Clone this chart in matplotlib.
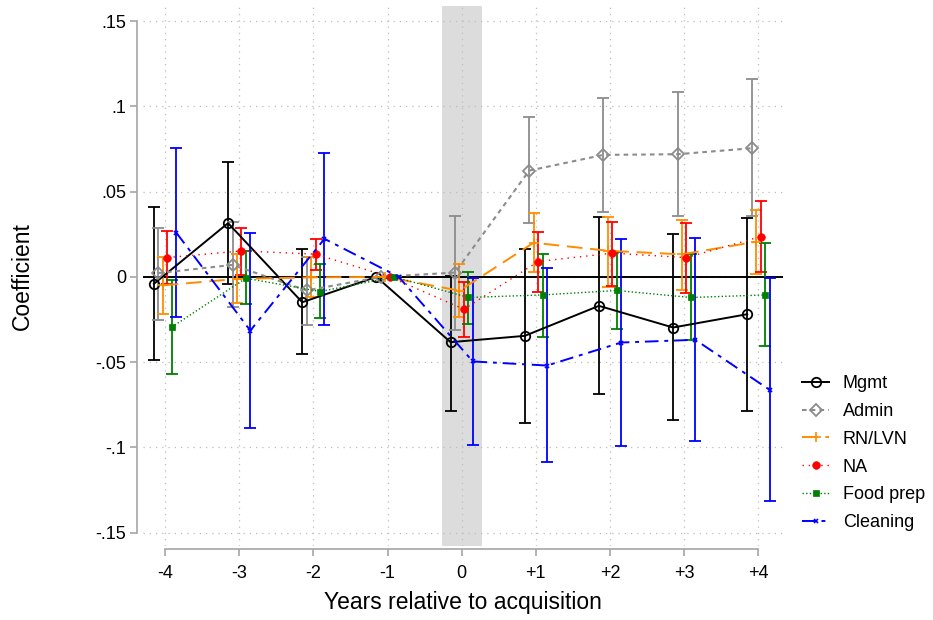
import numpy as np
import matplotlib
matplotlib.use("Agg")
import matplotlib.pyplot as plt
from matplotlib.lines import Line2D

plt.rcParams['font.family'] = ['Liberation Sans', 'DejaVu Sans']

# Event-study estimates by occupation group (year -1 is the reference year)
years = [-4, -3, -2, -1, 0, 1, 2, 3, 4]
year_labels = ['-4', '-3', '-2', '-1', '0', '+1', '+2', '+3', '+4']
y_ticks = [0.15, 0.10, 0.05, 0.0, -0.05, -0.10, -0.15]
y_tick_labels = ['.15', '.1', '.05', '0', '-.05', '-.1', '-.15']

groups = ['Mgmt', 'Admin', 'RN/LVN', 'NA', 'Food prep', 'Cleaning']

mgmt_coef = [-0.0041, 0.0315, -0.0149, 0.0, -0.0383, -0.0346, -0.0170, -0.0297, -0.0219]
mgmt_lo   = [-0.0490, -0.0041, -0.0453, 0.0, -0.0785, -0.0858, -0.0686, -0.0842, -0.0784]
mgmt_hi   = [0.0408, 0.0676, 0.0164, 0.0, 0.0005, 0.0164, 0.0350, 0.0250, 0.0344]

admin_coef = [0.0022, 0.0070, -0.0080, 0.0, 0.0025, 0.0623, 0.0715, 0.0719, 0.0754]
admin_lo   = [-0.0252, -0.0174, -0.0285, 0.0, -0.0310, 0.0315, 0.0383, 0.0354, 0.0354]
admin_hi   = [0.0287, 0.0324, 0.0119, 0.0, 0.0359, 0.0936, 0.1047, 0.1086, 0.1160]

rn_coef = [-0.0050, -0.0012, -0.0003, 0.0, -0.0081, 0.0200, 0.0153, 0.0132, 0.0206]
rn_lo   = [-0.0217, -0.0154, -0.0120, 0.0, -0.0238, 0.0031, -0.0057, -0.0076, 0.0016]
rn_hi   = [0.0117, 0.0133, 0.0115, 0.0, 0.0076, 0.0373, 0.0352, 0.0334, 0.0393]

na_coef = [0.0113, 0.0152, 0.0133, 0.0, -0.0190, 0.0090, 0.0139, 0.0113, 0.0236]
na_lo   = [-0.0041, 0.0012, 0.0041, 0.0, -0.0350, -0.0090, -0.0051, -0.0092, 0.0027]
na_hi   = [0.0266, 0.0289, 0.0223, 0.0, -0.0031, 0.0262, 0.0320, 0.0318, 0.0445]

food_coef = [-0.0295, -0.0008, -0.0086, 0.0, -0.0121, -0.0106, -0.0080, -0.0121, -0.0106]
food_lo   = [-0.0570, -0.0160, -0.0242, 0.0, -0.0275, -0.0350, -0.0305, -0.0369, -0.0403]
food_hi   = [-0.0018, 0.0152, 0.0074, 0.0, 0.0031, 0.0135, 0.0145, 0.0133, 0.0198]

clean_coef = [0.0260, -0.0315, 0.0223, 0.0, -0.0496, -0.0520, -0.0385, -0.0369, -0.0662]
clean_lo   = [-0.0233, -0.0889, -0.0283, 0.0, -0.0985, -0.1086, -0.0990, -0.0965, -0.1313]
clean_hi   = [0.0754, 0.0260, 0.0729, 0.0, -0.0008, 0.0051, 0.0223, 0.0227, -0.0008]

series = [
    (mgmt_coef, mgmt_lo, mgmt_hi),
    (admin_coef, admin_lo, admin_hi),
    (rn_coef, rn_lo, rn_hi),
    (na_coef, na_lo, na_hi),
    (food_coef, food_lo, food_hi),
    (clean_coef, clean_lo, clean_hi),
]

# Styling: horizontal dodge, colour, line pattern and marker per group
styles = [
    dict(dx=-0.15, color='black', ls='-', marker='o', ms=6.8, mfc='none', mew=1.3, lw=1.4),
    dict(dx=-0.09, color='#8c8c8c', ls=(0, (2.2, 2.0)), marker='D', ms=6.0, mfc='none', mew=1.3, lw=1.5),
    dict(dx=-0.03, color='#ff8c00', ls=(0, (8, 4)), marker='+', ms=6.5, mfc='#ff8c00', mew=1.2, lw=1.4),
    dict(dx=0.03, color='#ff0000', ls=(0, (1, 3.5)), marker='o', ms=5.5, mfc='#ff0000', mew=0.5, lw=1.0),
    dict(dx=0.09, color='#008000', ls=(0, (1, 1.6)), marker='s', ms=5.0, mfc='#008000', mew=0.5, lw=1.0),
    dict(dx=0.15, color='#0000ff', ls=(0, (7, 3, 2, 3)), marker='x', ms=3.0, mfc='#0000ff', mew=1.2, lw=1.4),
]

fig = plt.figure(figsize=(9.33, 6.2), dpi=100)
ax = fig.add_axes([143 / 933, 1 - 546 / 620, 640 / 933, 540 / 620])

ax.set_xlim(-4.297, 4.332)
ax.set_ylim(-0.1578, 0.1588)

# Acquisition year band and reference line
ax.axvspan(-0.27, 0.27, color='#dcdcdc', lw=0, zorder=0)
ax.axhline(0, color='black', lw=1.4, zorder=1.5)

x = np.array(years, dtype=float)
ref = x != -1
handles = []
for name, (coef, lo, hi), st in zip(groups, series, styles):
    c = np.array(coef)
    l = np.array(lo)
    h = np.array(hi)
    xs = x + st['dx']
    ax.errorbar(xs[ref], c[ref], yerr=[c[ref] - l[ref], h[ref] - c[ref]],
                fmt='none', ecolor=st['color'], elinewidth=1.3, capsize=4.5,
                capthick=1.3, zorder=2)
    ax.plot(xs, c, color=st['color'], ls=st['ls'], lw=st['lw'],
            marker=st['marker'], ms=st['ms'], mfc=st['mfc'], mec=st['color'],
            mew=st['mew'], zorder=3)
    handles.append(Line2D([], [], color=st['color'], ls=st['ls'], lw=st['lw'],
                          marker=st['marker'], ms=st['ms'], mfc=st['mfc'],
                          mec=st['color'], mew=st['mew']))

# Axes, ticks and grid
ax.set_xticks(years)
ax.set_xticklabels(year_labels)
ax.set_yticks(y_ticks)
ax.set_yticklabels(y_tick_labels)
ax.grid(True, ls=(0, (1, 4)), color='#bdbdbd', lw=0.9, zorder=0.5)
ax.set_axisbelow(True)

for side in ['top', 'right']:
    ax.spines[side].set_visible(False)
ax.spines['left'].set_position(('outward', 4))
ax.spines['bottom'].set_position(('outward', 2))
ax.spines['left'].set_bounds(-0.15, 0.15)
ax.spines['bottom'].set_bounds(-4, 4)
for side in ['left', 'bottom']:
    ax.spines[side].set_color('#a6a6a6')
    ax.spines[side].set_linewidth(1.2)
ax.tick_params(axis='both', colors='#a6a6a6', length=5, width=1.2,
               labelcolor='black', labelsize=13)
ax.tick_params(axis='x', pad=7)
ax.tick_params(axis='y', pad=3)

ax.set_xlabel('Years relative to acquisition', fontsize=16.5, labelpad=6)
ax.set_ylabel('Coefficient', fontsize=16.5, labelpad=44)

fig.legend(handles, groups, loc='upper left',
           bbox_to_anchor=(802 / 933, 1 - 375 / 620), frameon=False,
           fontsize=13, handlelength=1.5, handletextpad=0.75,
           labelspacing=0.6, borderpad=0, borderaxespad=0)

fig.savefig('out.png', dpi=100)
